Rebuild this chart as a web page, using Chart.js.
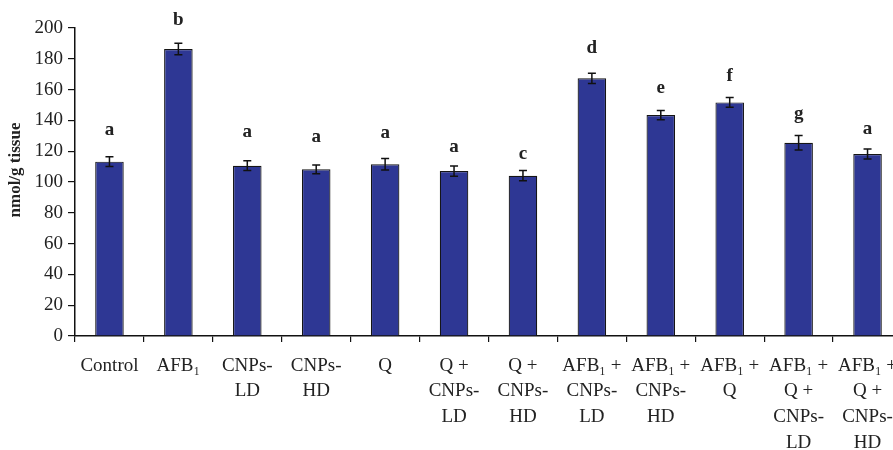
<!DOCTYPE html>
<html>
<head>
<meta charset="utf-8">
<script src="https://cdn.jsdelivr.net/npm/chart.js@4/dist/chart.umd.min.js"></script>
<style>
  html, body { margin: 0; padding: 0; background: #fff; overflow: hidden; }
  #wrap { width: 910px; height: 450px; }
</style>
</head>
<body>
<div id="wrap"><canvas id="chart" width="910" height="450"></canvas></div>
<script>
// groups (x axis), multi-line like the original figure
const groups = [
  ['Control'], ['AFB\u2081'], ['CNPs-', 'LD'], ['CNPs-', 'HD'], ['Q'],
  ['Q +', 'CNPs-', 'LD'], ['Q +', 'CNPs-', 'HD'],
  ['AFB\u2081 +', 'CNPs-', 'LD'], ['AFB\u2081 +', 'CNPs-', 'HD'], ['AFB\u2081 +', 'Q'],
  ['AFB\u2081 +', 'Q +', 'CNPs-', 'LD'], ['AFB\u2081 +', 'Q +', 'CNPs-', 'HD']
];
const means = [113.2, 186.4, 110.6, 108.2, 111.5, 107.1, 104.1, 167.3, 143.5, 151.7, 125.5, 118.2];
const errs = [3.2, 3.7, 3.2, 2.8, 3.7, 3.3, 3.3, 3.3, 3.0, 3.2, 4.7, 3.3];
// significance letters and the height (in nmol/g) where each is centred
const letters = ['a', 'b', 'a', 'a', 'a', 'a', 'c', 'd', 'e', 'f', 'g', 'a'];
const letterY = [133.8, 205.2, 132.5, 129, 131.6, 122.9, 118.2, 186.8, 160.8, 168.8, 144, 134.4];
const yTicks = [0, 20, 40, 60, 80, 100, 120, 140, 160, 180, 200];

const serif = '"Liberation Serif", "Times New Roman", serif';
const ink = '#222';

const extras = {
  id: 'extras',
  afterDatasetsDraw(chart) {
    const ctx = chart.ctx;
    const x = chart.scales.x, y = chart.scales.y;
    ctx.save();
    // error bars
    ctx.strokeStyle = '#111';
    ctx.lineWidth = 1.5;
    means.forEach((m, i) => {
      const cx = x.getPixelForValue(i);
      const top = y.getPixelForValue(m + errs[i]);
      const bot = y.getPixelForValue(m - errs[i]);
      ctx.beginPath();
      ctx.moveTo(cx, top); ctx.lineTo(cx, bot);
      ctx.moveTo(cx - 4, top); ctx.lineTo(cx + 4, top);
      ctx.moveTo(cx - 4, bot); ctx.lineTo(cx + 4, bot);
      ctx.stroke();
    });
    // letters
    ctx.fillStyle = ink;
    ctx.font = 'bold 19px ' + serif;
    ctx.textAlign = 'center';
    ctx.textBaseline = 'middle';
    letters.forEach((l, i) => {
      ctx.fillText(l, x.getPixelForValue(i), y.getPixelForValue(letterY[i]));
    });
    // y axis title
    ctx.translate(16, 170);
    ctx.rotate(-Math.PI / 2);
    ctx.font = 'bold 17px ' + serif;
    ctx.fillText('nmol/g tissue', 0, 0);
    ctx.restore();
  }
};

new Chart(document.getElementById('chart'), {
  type: 'bar',
  data: {
    labels: groups,
    datasets: [{
      data: means,
      backgroundColor: '#2E3794',
      borderColor: '#151515',
      borderWidth: 1.2,
      categoryPercentage: 1,
      barPercentage: 0.414
    }]
  },
  options: {
    responsive: false,
    animation: false,
    layout: { padding: { top: 28, right: 8, left: 0, bottom: 0 } },
    plugins: { legend: { display: false }, tooltip: { enabled: false } },
    scales: {
      x: {
        offset: true,
        grid: { offset: true, drawOnChartArea: false, drawTicks: true, tickLength: 6, color: '#111', lineWidth: 1.2 },
        border: { display: true, color: '#111', width: 1.5 },
        ticks: { color: ink, font: { family: serif, size: 19, lineHeight: 1.35 }, padding: 11, maxRotation: 0, autoSkip: false },
        afterFit(s) { s.height = 114; }
      },
      y: {
        min: 0, max: 200,
        afterBuildTicks(s) { s.ticks = yTicks.map(v => ({ value: v })); },
        grid: { drawOnChartArea: false, drawTicks: true, tickLength: 7, color: '#111', lineWidth: 1.2 },
        border: { display: true, color: '#111', width: 1.5 },
        ticks: { color: ink, font: { family: serif, size: 19 }, padding: 5 },
        afterFit(s) { s.width = 75; }
      }
    }
  },
  plugins: [extras]
});
</script>
</body>
</html>
